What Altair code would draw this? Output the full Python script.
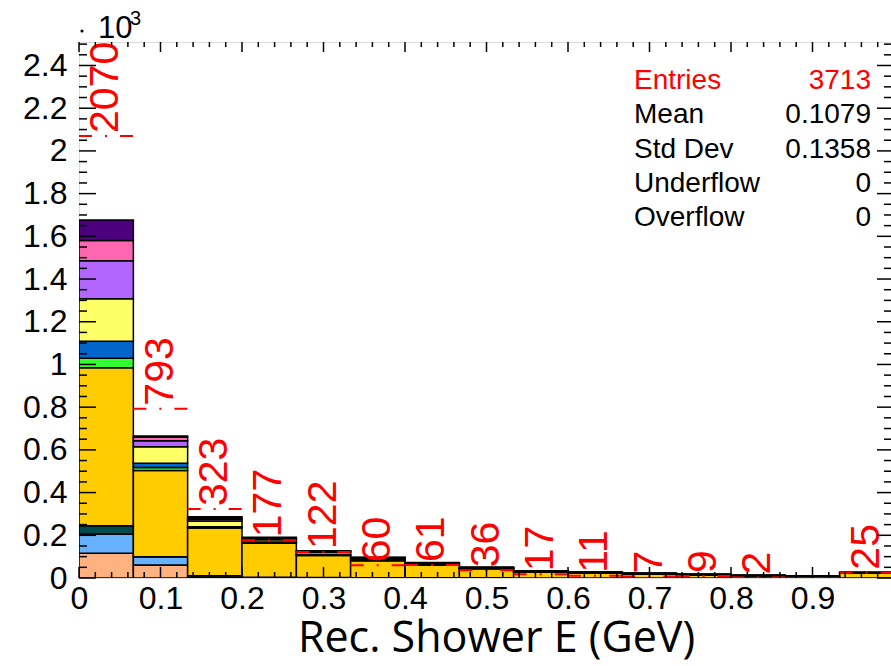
import altair as alt
import pandas as pd

# ---------------- data ----------------
bin_lo = [0.0, 0.0667, 0.1333, 0.2, 0.2667, 0.3333, 0.4, 0.4667, 0.5333, 0.6,
          0.6667, 0.7333, 0.8, 0.8667, 0.9333]
bin_hi = [0.0667, 0.1333, 0.2, 0.2667, 0.3333, 0.4, 0.4667, 0.5333, 0.6, 0.6667,
          0.7333, 0.8, 0.8667, 0.9333, 1.0]

data_counts = [2070, 793, 323, 177, 122, 60, 61, 36, 17, 11, 7, 9, 2, 0, 25]

# stacked MC components, bottom to top
layer_names = ["peach", "lightblue", "teal", "gold", "green", "blue",
               "yellow", "purple", "pink", "indigo"]
layer_colors = ["#FFB27F", "#66B2FF", "#004C4C", "#FFCC00", "#33FF33", "#0066CC",
                "#FFFF66", "#B266FF", "#FF66B2", "#4C0080"]
peach     = [116, 61, 2, 0, 0, 0, 0, 0, 0, 0, 0, 0, 0, 0, 0]
lightblue = [90, 39, 8, 3, 2, 1, 1, 1, 0, 0, 0, 0, 0, 0, 0]
teal      = [39, 0, 0, 0, 0, 0, 0, 0, 0, 0, 0, 0, 0, 0, 0]
gold      = [740, 403, 224, 160, 103, 80, 60, 42, 28, 23, 18, 14, 11, 8, 22]
green     = [44, 15, 3, 2, 2, 1, 1, 1, 1, 0, 0, 0, 0, 0, 0]
blue      = [80, 19, 3, 3, 2, 2, 1, 1, 1, 1, 1, 1, 0, 0, 1]
yellow    = [199, 78, 27, 11, 10, 7, 5, 3, 2, 2, 2, 1, 1, 1, 2]
purple    = [178, 28, 8, 5, 4, 3, 2, 1, 1, 1, 1, 1, 1, 0, 1]
pink      = [94, 16, 6, 4, 3, 2, 1, 1, 1, 1, 0, 0, 0, 0, 1]
indigo    = [97, 6, 6, 3, 2, 1, 1, 0, 0, 0, 0, 0, 0, 0, 0]
layer_values = [peach, lightblue, teal, gold, green, blue, yellow, purple, pink, indigo]

stat_names = ["Entries", "Mean", "Std Dev", "Underflow", "Overflow"]
stat_values = ["3713", "0.1079", "0.1358", "0", "0"]
stat_colors = ["#FF0000", "black", "black", "black", "black"]

y_major = [0, 0.2, 0.4, 0.6, 0.8, 1.0, 1.2, 1.4, 1.6, 1.8, 2.0, 2.2, 2.4]
x_major = [0, 0.1, 0.2, 0.3, 0.4, 0.5, 0.6, 0.7, 0.8, 0.9, 1.0]

# ---------------- tables ----------------
rows = []
for k, (name, vals) in enumerate(zip(layer_names, layer_values)):
    for lo, hi, v in zip(bin_lo, bin_hi, vals):
        rows.append({"lo": lo, "hi": hi, "val": v / 1000.0, "layer": name, "k": k})
mc = pd.DataFrame(rows)

dd = pd.DataFrame({
    "lo": bin_lo, "hi": bin_hi,
    "mid": [(a + b) / 2 for a, b in zip(bin_lo, bin_hi)],
    "val": [c / 1000.0 for c in data_counts],
    "label": [str(c) for c in data_counts],
})
dd = dd[dd["label"] != "0"]

y_minor = [round(i * 0.05, 3) for i in range(51) if round(i * 0.05, 3) not in y_major]
x_minor = [round(i * 0.02, 3) for i in range(51) if round(i * 0.02, 3) not in x_major]

W, H = 812, 536
XMAX = W / 815.0
YMAX = 2.51

xscale = alt.Scale(domain=[0, XMAX], nice=False, zero=False)
yscale = alt.Scale(domain=[0, YMAX], nice=False)

FONT = "Liberation Sans"

xaxis = alt.Axis(values=x_major[:-1], labelExpr="format(datum.value, '.1~f')",
                 ticks=False, domain=False, grid=False, labelFont=FONT,
                 labelFontSize=32, labelColor="black", labelPadding=5,
                 title="Rec. Shower E (GeV)", titleFont="Open Sans",
                 titleFontSize=43, titleFontWeight="normal", titleColor="black",
                 titleX=417, titleY=73, titleBaseline="alphabetic", titleAnchor="middle",
                 labelFlush=False)
yaxis = alt.Axis(values=y_major, labelExpr="format(datum.value, '.1~f')",
                 ticks=False, domain=False, grid=False, labelFont=FONT,
                 labelFontSize=32, labelColor="black", labelPadding=12, title=None)

bars = alt.Chart(mc).transform_stack(
    stack="val", groupby=["lo"], as_=["y0", "y1"], sort=[alt.SortField("k", order="ascending")]
).mark_rect(stroke="black", strokeWidth=1.5, clip=True).encode(
    x=alt.X("lo:Q", scale=xscale, axis=xaxis),
    x2="hi:Q",
    y=alt.Y("y0:Q", scale=yscale, axis=yaxis),
    y2="y1:Q",
    color=alt.Color("layer:N", scale=alt.Scale(domain=layer_names, range=layer_colors),
                    legend=None),
)

data_line = alt.Chart(dd).mark_rule(color="#FF0000", strokeWidth=2,
                                    strokeDash=[13, 13, 2, 13], clip=True).encode(
    x=alt.X("lo:Q", scale=xscale), x2="hi:Q", y=alt.Y("val:Q", scale=yscale))

data_text = alt.Chart(dd).mark_text(color="#FF0000", font=FONT, fontSize=41, angle=270,
                                    align="left", baseline="middle", dx=3).encode(
    x=alt.X("mid:Q", scale=xscale), y=alt.Y("val:Q", scale=yscale), text="label:N")

# inward ticks on all four sides
def yticks(vals, x0, x1):
    return alt.Chart(pd.DataFrame({"v": vals})).mark_rule(color="black", strokeWidth=1.5).encode(
        y=alt.Y("v:Q", scale=yscale), x=alt.value(x0), x2=alt.value(x1))

def xticks(vals, y0, y1):
    return alt.Chart(pd.DataFrame({"v": vals})).mark_rule(color="black", strokeWidth=1.5).encode(
        x=alt.X("v:Q", scale=xscale), y=alt.value(y0), y2=alt.value(y1))

ticks = [
    yticks(y_major, 0, 17), yticks(y_minor, 0, 8),
    yticks(y_major, W, W - 14), yticks(y_minor, W, W - 7),
    xticks([v for v in x_major if v < XMAX], H, H - 11), xticks(x_minor, H, H - 6),
    xticks([v for v in x_major if v < XMAX], 0, 10), xticks(x_minor, 0, 5),
]

# exponent marker "· 10^3"
dot = alt.Chart(pd.DataFrame({"a": [0]})).mark_circle(color="black", size=10, opacity=1).encode(
    x=alt.value(3), y=alt.value(-11))
ten = alt.Chart(pd.DataFrame({"t": ["10"]})).mark_text(
    font=FONT, fontSize=31, align="left", baseline="alphabetic", color="black").encode(
    x=alt.value(19), y=alt.value(-4), text="t:N")
three = alt.Chart(pd.DataFrame({"t": ["3"]})).mark_text(
    font=FONT, fontSize=20, align="left", baseline="alphabetic", color="black").encode(
    x=alt.value(51), y=alt.value(-17), text="t:N")

# stats box
stats = []
for i, (n, v, c) in enumerate(zip(stat_names, stat_values, stat_colors)):
    yb = 47 + i * 34.3
    stats.append(alt.Chart(pd.DataFrame({"t": [n]})).mark_text(
        font=FONT, fontSize=28, align="left", baseline="alphabetic", color=c).encode(
        x=alt.value(555), y=alt.value(yb), text="t:N"))
    stats.append(alt.Chart(pd.DataFrame({"t": [v]})).mark_text(
        font=FONT, fontSize=28, align="right", baseline="alphabetic", color=c).encode(
        x=alt.value(792), y=alt.value(yb), text="t:N"))

chart = alt.layer(bars, data_line, data_text, *ticks, dot, ten, three, *stats).properties(
    width=W, height=H,
    autosize=alt.AutoSizeParams(type="none"),
    padding={"left": 79, "top": 42, "right": 0, "bottom": 88},
).configure_view(stroke="black", strokeWidth=2).configure(background="white")

chart.save("out.html", embed_options={"renderer": "svg", "actions": False})
